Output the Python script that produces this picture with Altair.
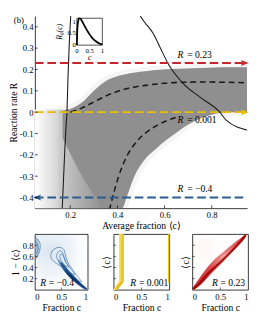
import altair as alt
import pandas as pd

# ---------------- main panel data ----------------
X_DOMAIN = [0.05, 0.95]
R_DOMAIN = [-0.45, 0.45]
X_TICKS = [0.2, 0.4, 0.6, 0.8]
R_TICKS = [-0.4, -0.3, -0.2, -0.1, 0.0, 0.1, 0.2, 0.3, 0.4]

GRAY_X = [0.167, 0.18, 0.20, 0.25, 0.30, 0.35, 0.40, 0.42, 0.44, 0.47, 0.51, 0.565, 0.633, 0.70, 0.76, 0.82, 0.87, 0.95]
GRAY_TOP = [0.008, 0.010, 0.015, 0.045, 0.10, 0.145, 0.168, 0.174, 0.179, 0.185, 0.19, 0.197, 0.202, 0.205, 0.207, 0.209, 0.21, 0.21]
GRAY_BOT = [-0.45, -0.45, -0.45, -0.45, -0.45, -0.45, -0.45, -0.45, -0.395, -0.305, -0.23, -0.17, -0.11, -0.058, -0.025, -0.006, 0.0, 0.0]

LEFT_X = [0.05, 0.167]
LEFT_TOP = [0.012, 0.012]
LEFT_BOT = [-0.45, -0.45]

LIGHT_X = [0.167, 0.25, 0.34]
LIGHT_TOP = [-0.12, -0.30, -0.45]
LIGHT_BOT = [-0.45, -0.45, -0.45]

SOLID1_X = [0.166, 0.172, 0.178, 0.183, 0.186, 0.19, 0.195, 0.202]
SOLID1_R = [-0.45, -0.30, -0.15, -0.05, 0.0, 0.15, 0.30, 0.45]

SOLID2_X = [0.497, 0.512, 0.552, 0.578, 0.614, 0.678, 0.753, 0.834, 0.86, 0.955]
SOLID2_R = [0.45, 0.426, 0.368, 0.31, 0.229, 0.135, 0.068, 0.0, -0.036, -0.085]

DASH_UP_X = [0.202, 0.25, 0.311, 0.36, 0.416, 0.47, 0.524, 0.60, 0.666, 0.76, 0.86, 0.94]
DASH_UP_R = [0.0, 0.02, 0.054, 0.08, 0.103, 0.117, 0.126, 0.135, 0.14, 0.141, 0.14, 0.138]

DASH_LO_X = [0.366, 0.384, 0.404, 0.436, 0.484, 0.553, 0.61, 0.66]
DASH_LO_R = [-0.46, -0.38, -0.305, -0.215, -0.135, -0.072, -0.04, -0.02]

ARROW_R = [0.23, 0.0, -0.4]
ARROW_COLOR = ["#c4262b", "#e8c000", "#285e8e"]
ARROW_HEAD_X = [0.94, 0.94, 0.06]
ARROW_DIR = ["right", "right", "left"]

LABEL_X = [0.655, 0.655, 0.655]
LABEL_R = [0.268, -0.036, -0.362]
LABEL_TXT = ["= 0.23", "= 0.001", "= \u22120.4"]

# inset R0(c): its box sits at these main-axis coordinates
INSET_X = [0.228, 0.336]     # main x of c = 0 and c = 1
INSET_R = [0.314, 0.44]      # main R of R0 = 0 and R0 = 1.15
INSET_VMAX = 1.15
INSET_TICKS = [0, 0.5, 1]
R0_C = [0.0, 0.01, 0.03, 0.06, 0.10, 0.15, 0.20, 0.30, 0.40, 0.50, 0.60, 0.70, 0.80, 0.90, 1.00]
R0_V = [0.0, 0.45, 0.85, 1.08, 1.15, 1.12, 1.03, 0.83, 0.63, 0.46, 0.31, 0.20, 0.12, 0.06, 0.03]

# ---------------- bottom panels data ----------------
P_TICKS_X = [0, 0.5, 1]
P_TICKS_Y = [0.2, 0.4, 0.6, 0.8]

P1_STREAK_X = [0.44, 0.50, 0.56, 0.62, 0.70, 0.80, 0.90, 1.00]
P1_STREAK_HI = [0.56, 0.50, 0.44, 0.38, 0.29, 0.19, 0.09, 0.00]
P1_STREAK_LO = [0.50, 0.41, 0.33, 0.26, 0.18, 0.10, 0.03, 0.00]
P1_CORE_X = [0.50, 0.56, 0.62, 0.70, 0.80, 0.90, 0.98]
P1_CORE_Y = [0.48, 0.40, 0.33, 0.25, 0.15, 0.07, 0.01]
P1_LOOP_OUT_C = [0.30, 0.33, 0.40, 0.48, 0.55, 0.58, 0.62, 0.70, 0.80, 0.88, 0.82, 0.70, 0.58, 0.46, 0.36, 0.31, 0.30]
P1_LOOP_OUT_Y = [0.62, 0.70, 0.75, 0.76, 0.72, 0.62, 0.50, 0.38, 0.25, 0.15, 0.17, 0.27, 0.37, 0.44, 0.51, 0.57, 0.62]
P1_LOOP_MID_C = [0.41, 0.45, 0.51, 0.55, 0.60, 0.70, 0.76, 0.68, 0.56, 0.47, 0.42, 0.41]
P1_LOOP_MID_Y = [0.62, 0.69, 0.69, 0.60, 0.48, 0.35, 0.27, 0.31, 0.41, 0.49, 0.56, 0.62]
P1_LOOP_IN_C = [0.47, 0.50, 0.54, 0.58, 0.64, 0.57, 0.50, 0.47]
P1_LOOP_IN_Y = [0.60, 0.65, 0.60, 0.50, 0.41, 0.44, 0.52, 0.60]
P1_EDGE_OUT_C = [0.0, 0.06, 0.10, 0.09, 0.05, 0.0]
P1_EDGE_OUT_Y = [0.95, 0.90, 0.82, 0.70, 0.61, 0.55]
P1_EDGE_IN_C = [0.0, 0.05, 0.06, 0.03, 0.0]
P1_EDGE_IN_Y = [0.88, 0.82, 0.74, 0.66, 0.62]
P1_EDGE_FILL_LO = [0.55, 0.60, 0.70, 0.74]

P2_BAND_Y = [0.0, 0.15, 1.0]
P2_BAND_L = [0.0, 0.10, 0.10]
P2_BAND_R = [0.06, 0.175, 0.175]
P2_LINE_TOP_C = [0.11, 0.13, 0.15, 0.17]
P2_LINE_BOT_C = [0.0, 0.015, 0.035, 0.055]
P2_LINE_BEND_Y = [0.15, 0.15, 0.15, 0.15]
P2_LINE_COL = ["#f3dc6a", "#ecd040", "#e6c419", "#dcb400"]
P2_EDGE_C = [0.975, 1.0]
P2_EDGE_Y = [0.12, 1.0]

P3_X = [0.0, 0.1, 0.2, 0.3, 0.4, 0.5, 0.6, 0.7, 0.8, 0.9, 0.97]
P3_HI = [0.03, 0.17, 0.31, 0.44, 0.55, 0.64, 0.72, 0.80, 0.88, 0.95, 1.0]
P3_LO = [0.0, 0.05, 0.14, 0.25, 0.35, 0.45, 0.55, 0.66, 0.77, 0.87, 0.97]
P3_CORE_X = [0.02, 0.15, 0.30, 0.40, 0.55, 0.70, 0.85, 0.95]
P3_CORE_Y = [0.01, 0.14, 0.31, 0.40, 0.54, 0.69, 0.85, 0.97]
P3_EDGE_HI_X = [0.05, 0.20, 0.35, 0.50, 0.65, 0.80, 0.93]
P3_EDGE_HI_Y = [0.08, 0.27, 0.47, 0.61, 0.72, 0.85, 0.98]

FONT = "Liberation Serif"
W, H = 221, 200
PH = 58

# ---------------- main chart ----------------
xs = alt.Scale(domain=X_DOMAIN, nice=False, zero=False)
ys = alt.Scale(domain=R_DOMAIN, nice=False, zero=False)
X_AXIS = alt.Axis(values=X_TICKS, title="Average fraction \u27e8c\u27e9", ticks=False, grid=False,
                  labelPadding=3, titlePadding=1, labelExpr="format(datum.value, '~g')")
Y_AXIS = alt.Axis(values=R_TICKS, title="Reaction rate R", ticks=False, grid=False,
                  labelPadding=2, titlePadding=1,
                  labelExpr="replace(format(datum.value, '~g'), '\u2212', '-')")


def mx(f):
    return alt.X(f, type="quantitative", scale=xs, axis=X_AXIS)


def my(f):
    return alt.Y(f, type="quantitative", scale=ys, axis=Y_AXIS)


gray_df = pd.DataFrame({"x": GRAY_X, "top": GRAY_TOP, "bot": GRAY_BOT})
gray_halo = alt.Chart(gray_df).mark_area(color="#8e8e8e", opacity=0.35, stroke="#8e8e8e",
                                         strokeWidth=9, strokeOpacity=0.25, interpolate="monotone", clip=True).encode(
    x=mx("x"), y=my("bot"), y2="top")
gray = alt.Chart(gray_df).mark_area(color="#8f8f8f", interpolate="monotone", clip=True).encode(
    x=mx("x"), y=my("bot"), y2="top")

left_df = pd.DataFrame({"x": LEFT_X, "top": LEFT_TOP, "bot": LEFT_BOT})
left = alt.Chart(left_df).mark_area(
    color=alt.LinearGradient(gradient="linear", x1=0, y1=0.5, x2=1, y2=0.5,
                             stops=[alt.GradientStop(color="#ffffff", offset=0),
                                    alt.GradientStop(color="#cdcdcd", offset=1)])).encode(
    x=mx("x"), y=my("bot"), y2="top")

light_df = pd.DataFrame({"x": LIGHT_X, "top": LIGHT_TOP, "bot": LIGHT_BOT})
light = alt.Chart(light_df).mark_area(
    interpolate="monotone",
    color=alt.LinearGradient(gradient="linear", x1=0, y1=0.5, x2=1, y2=0.5,
                             stops=[alt.GradientStop(color="rgba(255,255,255,0.5)", offset=0),
                                    alt.GradientStop(color="rgba(255,255,255,0.25)", offset=0.5),
                                    alt.GradientStop(color="rgba(255,255,255,0)", offset=1)])).encode(
    x=mx("x"), y=my("bot"), y2="top")

s1 = alt.Chart(pd.DataFrame({"x": SOLID1_X, "r": SOLID1_R})).mark_line(
    color="#1a1a1a", strokeWidth=1.1, interpolate="monotone", clip=True).encode(x=mx("x"), y=my("r"))
s2 = alt.Chart(pd.DataFrame({"x": SOLID2_X, "r": SOLID2_R})).mark_line(
    color="#1a1a1a", strokeWidth=1.1, interpolate="monotone", clip=True).encode(x=mx("x"), y=my("r"))
d1 = alt.Chart(pd.DataFrame({"x": DASH_UP_X, "r": DASH_UP_R})).mark_line(
    color="#1a1a1a", strokeWidth=1.6, strokeDash=[6, 4], interpolate="monotone", clip=True).encode(x=mx("x"), y=my("r"))
d2 = alt.Chart(pd.DataFrame({"x": DASH_LO_X, "r": DASH_LO_R})).mark_line(
    color="#1a1a1a", strokeWidth=1.6, strokeDash=[6, 4], interpolate="monotone", clip=True).encode(x=mx("x"), y=my("r"))

arr_df = pd.DataFrame({"r": ARROW_R, "col": ARROW_COLOR, "hx": ARROW_HEAD_X, "dir": ARROW_DIR,
                       "x0": [X_DOMAIN[0]] * 3, "x1": [X_DOMAIN[1]] * 3})
arr_lines = alt.Chart(arr_df).mark_rule(strokeWidth=2, strokeDash=[9, 4]).encode(
    x=mx("x0"), x2="x1", y=my("r"), color=alt.Color("col:N", scale=None))
heads = alt.Chart(arr_df).mark_point(filled=True, opacity=1, size=70, strokeWidth=0).encode(
    x=mx("hx"), y=my("r"), color=alt.Color("col:N", scale=None),
    shape=alt.Shape("dir:N", scale=alt.Scale(domain=["right", "left"],
                                             range=["M-1,-0.75L1,0L-1,0.75L-0.55,0Z",
                                                    "M1,-0.75L-1,0L1,0.75L0.55,0Z"]), legend=None))

lab_df = pd.DataFrame({"x": LABEL_X, "r": LABEL_R, "t": LABEL_TXT})
lab_r = alt.Chart(lab_df).mark_text(text="R", font=FONT, fontStyle="italic", fontSize=10,
                                    align="left", baseline="middle").encode(x=mx("x"), y=my("r"))
lab_t = alt.Chart(lab_df).mark_text(font=FONT, fontSize=10, align="left", baseline="middle", dx=10).encode(
    x=mx("x"), y=my("r"), text="t:N")

# inward ticks on the main axes
xt = alt.Chart(pd.DataFrame({"x": X_TICKS})).mark_rule(color="black", strokeWidth=0.7).encode(
    x=mx("x"), y=alt.value(H), y2=alt.value(H - 3))
yt = alt.Chart(pd.DataFrame({"r": R_TICKS})).mark_rule(color="black", strokeWidth=0.7).encode(
    y=my("r"), x=alt.value(0), x2=alt.value(3))

tag = alt.Chart(pd.DataFrame({"t": ["(b)"]})).mark_text(font=FONT, fontSize=9, align="left", baseline="middle").encode(
    x=alt.value(-22), y=alt.value(4), text="t:N")

# ---- inset: mapped into main coordinates with calculate transforms ----
ix_expr = f"{INSET_X[0]} + datum.c * {INSET_X[1] - INSET_X[0]}"
ir_expr = f"{INSET_R[0]} + datum.v / {INSET_VMAX} * {INSET_R[1] - INSET_R[0]}"

box_df = pd.DataFrame({"c": [0], "c1": [1], "v": [0], "v1": [INSET_VMAX]})
iframe = alt.Chart(box_df).transform_calculate(
    X0=ix_expr, X1=f"{INSET_X[0]} + datum.c1 * {INSET_X[1] - INSET_X[0]}",
    Y0=ir_expr, Y1=f"{INSET_R[0]} + datum.v1 / {INSET_VMAX} * {INSET_R[1] - INSET_R[0]}"
).mark_rect(fill="white", stroke="black", strokeWidth=0.7).encode(x=mx("X0:Q"), x2="X1:Q", y=my("Y0:Q"), y2="Y1:Q")

icurve = alt.Chart(pd.DataFrame({"c": R0_C, "v": R0_V})).transform_calculate(
    X=ix_expr, Y=ir_expr).mark_line(color="black", strokeWidth=1.8, interpolate="monotone").encode(
    x=mx("X:Q"), y=my("Y:Q"), order="c:Q")

itx = alt.Chart(pd.DataFrame({"c": INSET_TICKS, "v": [0, 0, 0]})).transform_calculate(
    X=ix_expr, Y=ir_expr, L="format(datum.c, '~g')").mark_text(
    font=FONT, fontSize=7, baseline="top", dy=2).encode(x=mx("X:Q"), y=my("Y:Q"), text="L:N")
ity = alt.Chart(pd.DataFrame({"c": [0, 0, 0], "v": INSET_TICKS})).transform_calculate(
    X=ix_expr, Y=ir_expr, L="format(datum.v, '~g')").mark_text(
    font=FONT, fontSize=7, align="right", baseline="middle", dx=-1).encode(x=mx("X:Q"), y=my("Y:Q"), text="L:N")
ititle_x = alt.Chart(pd.DataFrame({"c": [0.5], "v": [0]})).transform_calculate(
    X=ix_expr, Y=ir_expr).mark_text(font=FONT, fontSize=8, fontStyle="italic", baseline="top", dy=10, text="c").encode(
    x=mx("X:Q"), y=my("Y:Q"))
ititle_y = alt.Chart(pd.DataFrame({"c": [0], "v": [0.57]})).transform_calculate(
    X=ix_expr, Y=ir_expr).mark_text(font=FONT, fontSize=8, fontStyle="italic", angle=270, baseline="bottom",
                                    dx=0, dy=-13, text="R\u2080(c)").encode(x=mx("X:Q"), y=my("Y:Q"))

main = alt.layer(left, gray_halo, gray, light, s1, s2, d1, d2, arr_lines, heads, lab_r, lab_t, xt, yt, tag,
                 iframe, icurve, itx, ity, ititle_x, ititle_y).properties(
    width=W, height=H, view=alt.ViewBackground(stroke=None))

# ---------------- bottom panels ----------------
ps = alt.Scale(domain=[0, 1], nice=False, zero=False)
PX_AXIS = alt.Axis(values=P_TICKS_X, title="Fraction c", ticks=False, grid=False, domain=False,
                   labelPadding=3, titlePadding=2, labelExpr="format(datum.value, '~g')")


def py_axis(title, labels):
    return alt.Axis(values=P_TICKS_Y, title=title, ticks=False, grid=False, domain=False, labels=labels,
                    labelPadding=2, titlePadding=2, labelExpr="format(datum.value, '~g')")


def px(f):
    return alt.X(f, type="quantitative", scale=ps, axis=PX_AXIS)


def panel_label(x, rtxt, ax):
    d = pd.DataFrame({"x": [x], "y": [0.12], "t": [rtxt]})
    a = alt.Chart(d).mark_text(text="R", font=FONT, fontStyle="italic", fontSize=10, align="left",
                               baseline="middle").encode(x=px("x"), y=alt.Y("y:Q", scale=ps, axis=ax))
    b = alt.Chart(d).mark_text(font=FONT, fontSize=10, align="left", baseline="middle", dx=9).encode(
        x=px("x"), y=alt.Y("y:Q", scale=ps, axis=ax), text="t:N")
    return [a, b]


def panel_ticks(ax, ph):
    tx = alt.Chart(pd.DataFrame({"x": P_TICKS_X[1:2]})).mark_rule(color="black", strokeWidth=0.6).encode(
        x=px("x"), y=alt.value(ph), y2=alt.value(ph - 2.5))
    ty = alt.Chart(pd.DataFrame({"y": P_TICKS_Y})).mark_rule(color="black", strokeWidth=0.6).encode(
        y=alt.Y("y:Q", scale=ps, axis=ax), x=alt.value(0), x2=alt.value(2.5))
    return [tx, ty]


def loops_df(pairs):
    rows = []
    for g, (cs, ys_) in enumerate(pairs):
        for i, (c, v) in enumerate(zip(cs, ys_)):
            rows.append({"c": c, "v": v, "g": g, "o": i})
    return pd.DataFrame(rows)


box = pd.DataFrame({"x0": [0], "x1": [1], "y0": [0], "y1": [1]})

# panel 1 (blue)
Y1 = py_axis("1 \u2212 \u27e8c\u27e9", True)
p1y = lambda f: alt.Y(f, type="quantitative", scale=ps, axis=Y1)
p1_wash = alt.Chart(box).mark_rect(
    color=alt.RadialGradient(gradient="radial", x1=0.3, y1=0.3, r1=0, x2=0.3, y2=0.3, r2=0.75,
                             stops=[alt.GradientStop(color="rgba(90,140,190,0.22)", offset=0),
                                    alt.GradientStop(color="rgba(90,140,190,0.08)", offset=0.6),
                                    alt.GradientStop(color="rgba(255,255,255,0)", offset=1)])).encode(
    x=px("x0"), x2="x1", y=p1y("y0"), y2="y1")
p1_edge_fill = alt.Chart(pd.DataFrame({"c": P1_EDGE_OUT_C[:4], "hi": P1_EDGE_OUT_Y[:4],
                                       "lo": P1_EDGE_FILL_LO})).mark_area(
    color="#6f9cc6", opacity=0.55, interpolate="monotone").encode(x=px("c"), y=p1y("lo"), y2="hi")
p1_streak = alt.Chart(pd.DataFrame({"x": P1_STREAK_X, "hi": P1_STREAK_HI, "lo": P1_STREAK_LO})).mark_area(
    interpolate="monotone",
    color=alt.LinearGradient(gradient="linear", x1=0, y1=0, x2=1, y2=1,
                             stops=[alt.GradientStop(color="#9dbbd8", offset=0),
                                    alt.GradientStop(color="#235d96", offset=0.25),
                                    alt.GradientStop(color="#0b3a6b", offset=0.5),
                                    alt.GradientStop(color="#2f68a0", offset=0.8),
                                    alt.GradientStop(color="#7ea6cc", offset=1)])).encode(
    x=px("x"), y=p1y("lo"), y2="hi")
p1_core = alt.Chart(pd.DataFrame({"x": P1_CORE_X, "y": P1_CORE_Y})).mark_line(
    color="#08306b", strokeWidth=2.2, opacity=0.8, interpolate="monotone").encode(x=px("x"), y=p1y("y"))
p1_cont = alt.Chart(loops_df([(P1_LOOP_OUT_C, P1_LOOP_OUT_Y), (P1_LOOP_MID_C, P1_LOOP_MID_Y),
                              (P1_LOOP_IN_C, P1_LOOP_IN_Y), (P1_EDGE_OUT_C, P1_EDGE_OUT_Y),
                              (P1_EDGE_IN_C, P1_EDGE_IN_Y)])).mark_line(
    color="#4a7fb2", strokeWidth=0.8, interpolate="cardinal").encode(
    x=px("c"), y=p1y("v"), detail="g:N", order="o:Q")
panel1 = alt.layer(p1_wash, p1_edge_fill, p1_streak, p1_core, p1_cont,
                   *panel_label(0.1, "= \u22120.4", Y1), *panel_ticks(Y1, PH)).properties(
    width=55, height=PH, view=alt.ViewBackground(stroke="black", strokeWidth=0.8))

# panel 2 (yellow)
Y2 = py_axis("\u27e8c\u27e9", False)
p2y = lambda f: alt.Y(f, type="quantitative", scale=ps, axis=Y2)
p2_band = alt.Chart(pd.DataFrame({"y": P2_BAND_Y, "l": P2_BAND_L, "r": P2_BAND_R})).mark_area(
    orient="horizontal", color="#f8ea9a").encode(y=p2y("y"), x=px("l"), x2="r")
rows = []
for g, (ct, cb, yb, col) in enumerate(zip(P2_LINE_TOP_C, P2_LINE_BOT_C, P2_LINE_BEND_Y, P2_LINE_COL)):
    rows += [{"c": ct, "v": 1.0, "g": g, "o": 0, "col": col},
             {"c": ct, "v": yb, "g": g, "o": 1, "col": col},
             {"c": cb, "v": 0.0, "g": g, "o": 2, "col": col}]
p2_lines = alt.Chart(pd.DataFrame(rows)).mark_line(strokeWidth=1.2).encode(
    x=px("c"), y=p2y("v"), detail="g:N", order="o:Q", color=alt.Color("col:N", scale=None))
p2_edge = alt.Chart(pd.DataFrame({"x0": [P2_EDGE_C[0]], "x1": [P2_EDGE_C[1]],
                                  "y0": [P2_EDGE_Y[0]], "y1": [P2_EDGE_Y[1]]})).mark_rect(color="#e6c419").encode(
    x=px("x0"), x2="x1", y=p2y("y0"), y2="y1")
panel2 = alt.layer(p2_band, p2_lines, p2_edge, *panel_label(0.3, "= 0.001", Y2), *panel_ticks(Y2, PH)).properties(
    width=58, height=PH, view=alt.ViewBackground(stroke="black", strokeWidth=0.8))

# panel 3 (red)
p3_wash = alt.Chart(box).mark_rect(
    color=alt.RadialGradient(gradient="radial", x1=0.25, y1=0.25, r1=0, x2=0.25, y2=0.25, r2=0.5,
                             stops=[alt.GradientStop(color="rgba(220,120,120,0.08)", offset=0),
                                    alt.GradientStop(color="rgba(255,255,255,0)", offset=1)])).encode(
    x=px("x0"), x2="x1", y=p2y("y0"), y2="y1")
p3_band = alt.Chart(pd.DataFrame({"x": P3_X, "hi": P3_HI, "lo": P3_LO})).mark_area(
    interpolate="monotone",
    color=alt.LinearGradient(gradient="linear", x1=0, y1=1, x2=1, y2=0,
                             stops=[alt.GradientStop(color="#b80f0f", offset=0),
                                    alt.GradientStop(color="#d64545", offset=0.35),
                                    alt.GradientStop(color="#f0a0a0", offset=0.6),
                                    alt.GradientStop(color="#d84a4a", offset=0.85),
                                    alt.GradientStop(color="#b30000", offset=1)])).encode(
    x=px("x"), y=p2y("lo"), y2="hi")
p3_edge = alt.Chart(pd.DataFrame({"x": P3_EDGE_HI_X, "y": P3_EDGE_HI_Y})).mark_line(
    color="#e06060", strokeWidth=0.8, interpolate="monotone").encode(x=px("x"), y=p2y("y"))
p3_core = alt.Chart(pd.DataFrame({"x": P3_CORE_X, "y": P3_CORE_Y})).mark_line(
    color="#9e0000", strokeWidth=2.2, opacity=0.85, interpolate="monotone").encode(x=px("x"), y=p2y("y"))
panel3 = alt.layer(p3_wash, p3_band, p3_edge, p3_core, *panel_label(0.35, "= 0.23", Y2),
                   *panel_ticks(Y2, PH)).properties(
    width=58, height=PH, view=alt.ViewBackground(stroke="black", strokeWidth=0.8))

bottom = alt.hconcat(panel1, panel2, panel3, spacing=10)

chart = alt.vconcat(main, bottom, spacing=0).properties(
    padding={"left": 0, "top": 0, "right": 0, "bottom": 0}
).configure(font=FONT).configure_axis(
    labelFont=FONT, titleFont=FONT, labelFontSize=9, titleFontSize=10, titleFontWeight="normal",
    labelColor="black", titleColor="black", domainColor="black", domainWidth=0.8
).configure_text(font=FONT)

chart.save("out.html", embed_options={"renderer": "svg", "actions": False})
